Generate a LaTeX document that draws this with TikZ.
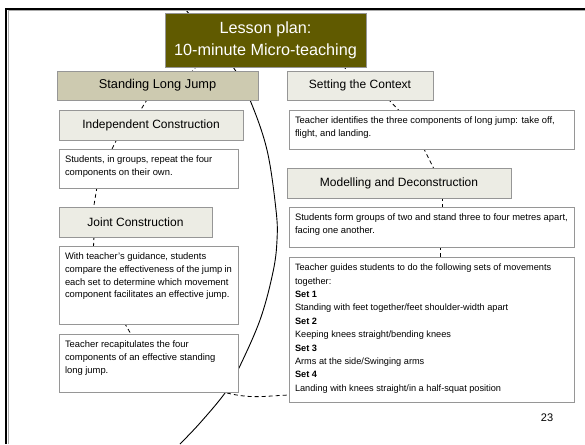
\documentclass[tikz,border=0pt]{standalone}
\usepackage{fontspec}
\setmainfont{Liberation Sans}
\usetikzlibrary{calc}
\pgfdeclarelayer{background}
\pgfsetlayers{background,main}

\definecolor{olivehead}{RGB}{96,90,0}
\definecolor{khaki}{RGB}{205,202,176}
\definecolor{paleshade}{RGB}{236,236,228}
\definecolor{edgegray}{RGB}{150,150,150}
\definecolor{shadowgray}{RGB}{170,170,170}

% fixed-size body of a text panel, text starting at the top left
\newcommand\panelbody[3]{\begin{minipage}[t][#2][t]{#1}\raggedright #3\end{minipage}}

\tikzset{
  panel/.style={draw=edgegray, line width=0.9pt, inner sep=0pt, outer sep=0pt},
  headbox/.style={panel, fill=paleshade, align=center, font=\fontsize{12}{14}\selectfont},
  textbox/.style={panel, fill=white, anchor=north west, inner xsep=6pt, inner ysep=7pt,
                  font=\fontsize{9.4}{12.7}\selectfont},
  conn/.style={draw=black, line width=0.8pt, dash pattern=on 4pt off 3pt},
  arcline/.style={draw=black, line width=0.9pt},
}

\begin{document}
\begin{tikzpicture}[x=1pt,y=-1pt]
\useasboundingbox (0,0) rectangle (585,444);

% slide frame
\draw[shadowgray, line width=1pt] (8,444) -- (8,10.8) -- (585,10.8);
\draw[black, line width=2pt] (6,444) -- (6,9) -- (585,9);

% heading panels
\node[panel, fill=olivehead, text=white, align=center, font=\fontsize{16.2}{21.5}\selectfont,
      minimum width=201pt, minimum height=54pt] (title) at (265.5,40.5)
      {Lesson plan:\\10-minute Micro-teaching};
\node[panel, fill=khaki, font=\fontsize{12.8}{14}\selectfont,
      minimum width=201pt, minimum height=29pt] (slj) at (157.5,85.5) {Standing Long Jump};
\node[headbox, minimum width=146pt, minimum height=29pt] (sc) at (360,85.5) {Setting the Context};
\node[headbox, minimum width=184pt, minimum height=30pt] (indep) at (151,125) {Independent Construction};
\node[headbox, minimum width=153pt, minimum height=30pt] (joint) at (135.5,222) {Joint Construction};
\node[headbox, minimum width=224pt, minimum height=30pt] (model) at (399,183) {Modelling and Deconstruction};

% text panels, left column
\node[textbox] (groups) at (59,149)
  {\panelbody{167pt}{25pt}{Students, in groups, repeat the four\\components on their own.}};
\node[textbox] (teach) at (59,246)
  {\panelbody{167pt}{64pt}{With teacher’s guidance, students\\compare the effectiveness of the jump in\\each set to determine which movement\\component facilitates an effective jump.}};
\node[textbox] (recap) at (59,334)
  {\panelbody{167pt}{44pt}{Teacher recapitulates the four\\components of an effective standing\\long jump.}};

% text panels, right column
\node[textbox] (ident) at (289,110)
  {\panelbody{273pt}{25pt}{Teacher identifies the three components of long jump: take off,\\flight, and landing.}};
\node[textbox] (form) at (289,207)
  {\panelbody{273pt}{26pt}{Students form groups of two and stand three to four metres apart,\\facing one another.}};
\node[textbox, font=\fontsize{9.2}{13.4}\selectfont] (set) at (289,257)
  {\panelbody{273pt}{131pt}{Teacher guides students to do the following sets of movements\\together:\\
   \textbf{Set 1}\\Standing with feet together/feet shoulder-width apart\\
   \textbf{Set 2}\\Keeping knees straight/bending knees\\
   \textbf{Set 3}\\Arms at the side/Swinging arms\\
   \textbf{Set 4}\\Landing with knees straight/in a half-squat position}};

% page number
\node[font=\fontsize{11}{13}\selectfont] (pagenum) at (547,418) {23};

\begin{pgfonlayer}{background}
  % large sweeping arc behind the left column
  \draw[arcline] plot[smooth, tension=0.6] coordinates
    {(185,9) (233,67) (250,100) (267,150) (276,210) (277,240) (273,272)
     (260,320) (238,370) (225,393) (200,423) (180,444)};

  % dashed links between panels
  \draw[conn] ($(title.south)+(-68,-2)$) -- ($(slj.north)+(33,2)$);
  \draw[conn] ($(title.south)+(78,-2)$) -- ($(sc.north)+(-12,2)$);
  \draw[conn] ($(slj.south)+(-10,-1)$) -- ($(indep.north)+(-11,1)$);
  \draw[conn] ($(indep.south)+(-34,-1)$) -- ($(groups.north)+(-37,1)$);
  \draw[conn] ($(groups.south)+(-51.5,-1)$) -- ($(joint.north)+(-42,1)$);
  \draw[conn] ($(joint.south)+(-41.5,-1)$) -- ($(teach.north)+(-55,1)$);
  \draw[conn] ($(teach.south)+(-24,-1)$) -- ($(recap.north)+(-17,1)$);
  \draw[conn] ($(sc.south)+(28,-1)$) -- ($(ident.north)+(-32,1)$);
  \draw[conn] ($(ident.south)+(-8,-1)$) -- ($(model.north)+(35,1)$);
  \draw[conn] ($(model.south)+(43,-1)$) -- ($(form.north)+(10.5,1)$);
  \draw[conn] ($(form.south)+(8.5,-1)$) -- ($(set.north)+(8.5,1)$);
  \draw[conn] ($(recap.south east)+(-11,1)$) .. controls +(25,6) and +(-25,1) .. ($(set.west)+(0,65.5)$);
\end{pgfonlayer}
\end{tikzpicture}
\end{document}
